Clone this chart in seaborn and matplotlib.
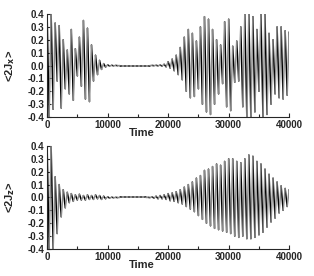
import numpy as np
import pandas as pd
import matplotlib
matplotlib.use("Agg")
import matplotlib.pyplot as plt
from matplotlib.ticker import MultipleLocator, FormatStrFormatter
import seaborn as sns

# ---- data: oscillation extrema (peak, trough) every ~667 time units ----
pair_times = [i * 40000 / 60 for i in range(61)]

top_peaks = [0.40, 0.40, 0.33, 0.31, 0.20, 0.12, 0.28, 0.13, 0.22, 0.35,
             0.29, 0.16, 0.08, 0.04, 0.015, 0.005, 0.002, 0.001, 0.0, 0.0,
             0.0, 0.0, 0.0, 0.0, 0.0, 0.0, 0.001, 0.002, 0.004, 0.01,
             0.03, 0.05, 0.08, 0.14, 0.22, 0.28, 0.25, 0.19, 0.30, 0.38,
             0.36, 0.28, 0.20, 0.16, 0.34, 0.36, 0.15, 0.19, 0.30, 0.40,
             0.40, 0.38, 0.28, 0.40, 0.40, 0.25, 0.20, 0.30, 0.30, 0.27, 0.26]
top_troughs = [-0.40, -0.34, -0.12, -0.33, -0.18, -0.22, -0.27, -0.08, -0.16, -0.26,
               -0.28, -0.12, -0.07, -0.03, -0.012, -0.004, -0.002, -0.001, 0.0, 0.0,
               0.0, 0.0, 0.0, 0.0, 0.0, 0.0, -0.001, -0.002, -0.004, -0.01,
               -0.02, -0.04, -0.07, -0.11, -0.20, -0.25, -0.24, -0.18, -0.30, -0.36,
               -0.38, -0.30, -0.22, -0.14, -0.32, -0.35, -0.13, -0.12, -0.32, -0.40,
               -0.40, -0.36, -0.20, -0.40, -0.38, -0.30, -0.22, -0.25, -0.26, -0.23, -0.24]

bot_peaks = [0.40, 0.40, 0.16, 0.10, 0.06, 0.04, 0.03, 0.02, 0.025, 0.015,
             0.02, 0.015, 0.02, 0.015, 0.01, 0.005, 0.002, 0.001, 0.0, 0.0,
             0.0, 0.0, 0.0, 0.0, 0.0, 0.001, 0.005, 0.01, 0.015, 0.02,
             0.03, 0.035, 0.045, 0.06, 0.08, 0.10, 0.12, 0.15, 0.17, 0.21,
             0.22, 0.24, 0.26, 0.25, 0.28, 0.30, 0.30, 0.28, 0.27, 0.30,
             0.33, 0.32, 0.28, 0.26, 0.22, 0.18, 0.15, 0.12, 0.09, 0.07, 0.06]
bot_troughs = [-0.40, -0.40, -0.28, -0.15, -0.08, -0.04, -0.03, -0.02, -0.02, -0.02,
               -0.015, -0.015, -0.01, -0.015, -0.01, -0.005, -0.002, -0.001, 0.0, 0.0,
               0.0, 0.0, 0.0, 0.0, 0.0, -0.001, -0.005, -0.01, -0.01, -0.015,
               -0.025, -0.03, -0.04, -0.05, -0.07, -0.09, -0.11, -0.14, -0.17, -0.20,
               -0.22, -0.24, -0.25, -0.26, -0.27, -0.28, -0.30, -0.31, -0.30, -0.32,
               -0.32, -0.31, -0.29, -0.27, -0.23, -0.19, -0.16, -0.12, -0.10, -0.07, -0.05]

x_ticks = [0, 10000, 20000, 30000, 40000]
y_labels = ["<2J$_x$>", "<2J$_z$>"]


def zigzag(peaks, troughs):
    t, v = [], []
    half = 40000 / 120
    for tt, p, q in zip(pair_times, peaks, troughs):
        t += [tt, tt + half]
        v += [p, q]
    rows = []
    for k in range(len(t) - 1):
        kind = "a" if k % 2 == 0 else "b"
        rows.append((t[k], v[k], k, kind))
        rows.append((t[k + 1], v[k + 1], k, kind))
    return pd.DataFrame(rows, columns=["t", "v", "seg", "kind"])


sns.set_style("ticks")
plt.rcParams["font.family"] = ["Liberation Sans", "DejaVu Sans"]
plt.rcParams["font.weight"] = "bold"
plt.rcParams["mathtext.default"] = "bf"

fig = plt.figure(figsize=(3.14, 2.76), dpi=100)
ax_top = fig.add_axes([0.150, 0.576, 0.771, 0.373])
ax_bot = fig.add_axes([0.150, 0.098, 0.771, 0.373])

for ax, pk, tr, yl in [(ax_top, top_peaks, top_troughs, y_labels[0]),
                       (ax_bot, bot_peaks, bot_troughs, y_labels[1])]:
    df = zigzag(pk, tr)
    sns.lineplot(data=df, x="t", y="v", units="seg", hue="kind",
                 palette={"a": "black", "b": "#8a8a8a"}, estimator=None,
                 sort=False, legend=False, lw=1.1, ax=ax)
    ax.set_xlim(0, 40000)
    ax.set_ylim(-0.4, 0.4)
    ax.set_xticks(x_ticks)
    ax.xaxis.set_minor_locator(MultipleLocator(5000))
    ax.yaxis.set_major_locator(MultipleLocator(0.1))
    ax.yaxis.set_major_formatter(FormatStrFormatter("%.1f"))
    ax.tick_params(axis="both", which="both", direction="in", labelsize=7,
                   width=0.8, pad=2)
    ax.tick_params(axis="both", which="major", length=3)
    ax.tick_params(axis="both", which="minor", length=2)
    for lab in ax.get_xticklabels() + ax.get_yticklabels():
        lab.set_fontweight("bold")
    sns.despine(ax=ax)
    for s in ["left", "bottom"]:
        ax.spines[s].set_linewidth(0.8)
    ax.set_xlabel("Time", fontsize=8, fontweight="bold")
    ax.xaxis.set_label_coords(0.39, -0.11)
    ax.set_ylabel(yl, fontsize=8, fontweight="bold")
    ax.yaxis.set_label_coords(-0.125, 0.5)

fig.savefig("out.png", dpi=100)
